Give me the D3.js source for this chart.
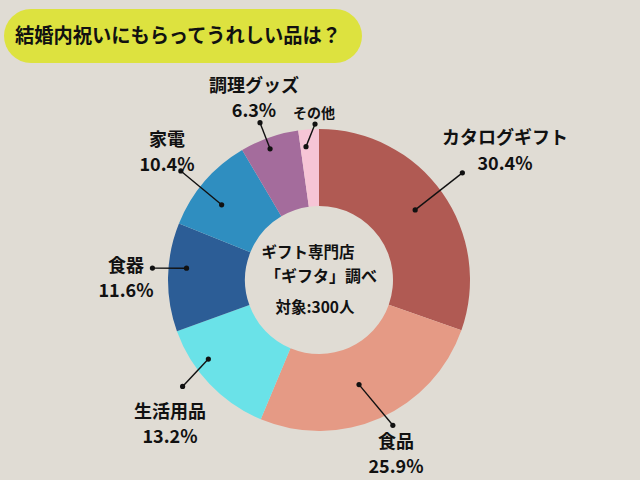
<!DOCTYPE html>
<html>
<head>
<meta charset="utf-8">
<script src="https://cdn.jsdelivr.net/npm/d3@7"></script>
<style>
body{margin:0;background:#e0dcd4;}
svg{display:block;font-family:"Noto Sans CJK JP","Noto Sans",sans-serif;font-weight:bold;}
</style>
</head>
<body>
<svg width="640" height="480"></svg>
<script>
// donnees
var categories=["カタログギフト","食品","生活用品","食器","家電","調理グッズ","その他"];
var valeurs=[30.4,25.9,13.2,11.6,10.4,6.3,2.2];
var couleurs=["#b05a53","#e59a85","#6ae2e8","#2c5d96","#2f8ec0","#a46c9c","#f6c5d6"];
var titre="結婚内祝いにもらってうれしい品は？";
var centre_textes=["ギフト専門店","「ギフタ」調べ","対象:300人"];

// placement des etiquettes (x centre, ligne 1, ligne 2)
var etiq_pos=[[505,144,170],[396,448,473],[170,418,443],[126,272,297],[167,146,171],[254,92,117],[314,118,null]];
// traits de rappel : [decalage angle debut, rayon debut, decalage angle fin, rayon fin] en degres
var traits=[[-0.8,119,-1.5,179],[3,112,-3,163],[8,136,5.6,173],[4,133,3,167],[-3,123,-2.4,176],[-1.2,140,-1.3,168],[-1.6,134,2.5,156]];

var svg=d3.select("svg");
var cx=319,cy=280,rOut=151,rIn=74;

// titre
svg.append("rect").attr("x",4).attr("y",9).attr("width",358).attr("height",54).attr("rx",27).attr("fill","#dde23f");
svg.append("text").attr("x",15).attr("y",43).attr("font-size",20)
   .attr("textLength",326).attr("lengthAdjust","spacingAndGlyphs")
   .attr("fill","#111").text(titre);

var g=svg.append("g").attr("transform","translate("+cx+","+cy+")");
var pie=d3.pie().sort(null).value(function(d){return d;});
var arcs=pie(valeurs);
var arc=d3.arc().innerRadius(rIn).outerRadius(rOut);

g.selectAll("path.part").data(arcs).enter().append("path")
 .attr("class","part")
 .attr("d",arc)
 .attr("fill",function(d,i){return couleurs[i];});

function polaire(a,r){
  var rad=a*Math.PI/180;
  return [r*Math.sin(rad),-r*Math.cos(rad)];
}

arcs.forEach(function(d,i){
  var mid=(d.startAngle+d.endAngle)/2*180/Math.PI;
  var t=traits[i];
  var p1=polaire(mid+t[0],t[1]);
  var p2=polaire(mid+t[2],t[3]);
  g.append("line").attr("x1",p1[0]).attr("y1",p1[1]).attr("x2",p2[0]).attr("y2",p2[1])
   .attr("stroke","#111").attr("stroke-width",1.4);
  g.append("circle").attr("cx",p1[0]).attr("cy",p1[1]).attr("r",2.6).attr("fill","#111");
  g.append("circle").attr("cx",p2[0]).attr("cy",p2[1]).attr("r",2.6).attr("fill","#111");
});

// etiquettes
categories.forEach(function(c,i){
  var p=etiq_pos[i];
  if(p[2]===null){
    svg.append("text").attr("x",p[0]).attr("y",p[1]).attr("text-anchor","middle")
     .attr("font-size",14).attr("fill","#111").text(c);
  } else {
    svg.append("text").attr("x",p[0]).attr("y",p[1]).attr("text-anchor","middle")
     .attr("font-size",18).attr("fill","#111").text(c);
    svg.append("text").attr("x",p[0]).attr("y",p[2]).attr("text-anchor","middle")
     .attr("font-size",18).attr("fill","#111").text(valeurs[i].toFixed(1)+"%");
  }
});

// texte central
var cpos=[[308,258,15.5],[321,282,16],[315,313,15.5]];
centre_textes.forEach(function(t,i){
  svg.append("text").attr("x",cpos[i][0]).attr("y",cpos[i][1]).attr("text-anchor","middle")
   .attr("font-size",cpos[i][2]).attr("fill","#111").text(t);
});
</script>
</body>
</html>
